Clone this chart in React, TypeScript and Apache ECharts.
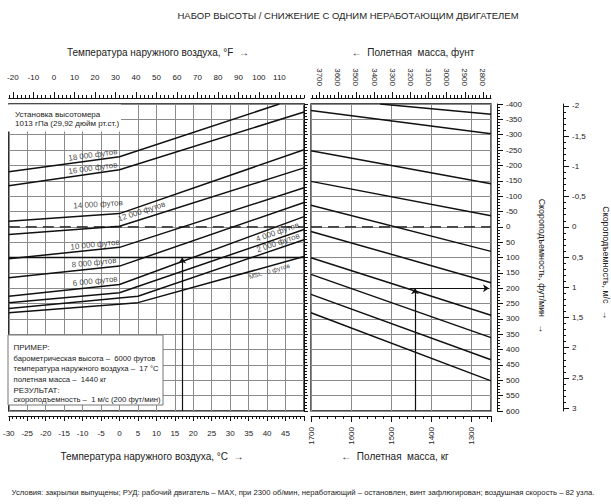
import React, { useEffect, useRef } from "react";
import * as echarts from "echarts";

const FONT = "'Liberation Sans', Arial, Helvetica, sans-serif";
const LB_PER_KG = 2.20462;
const FT_PER_MS = 196.85;
const KG_REF = 1700;

// ---- tick labels ----
const fahrenheitLabels = [-20, -10, 0, 10, 20, 30, 40, 50, 60, 70, 80, 90, 100, 110];
const poundLabels = [3700, 3600, 3500, 3400, 3300, 3200, 3100, 3000, 2900, 2800];
const msLabels = [-2, -1.5, -1, -0.5, 0, 0.5, 1, 1.5, 2, 2.5, 3];

// ---- left panel: altitude lines [°C, ft/min] ----
const alt18000 = [[-30, -179], [0, -228], [43.3, -400]];
const alt16000 = [[-30, -134], [0, -186], [50, -374]];
const alt14000 = [[-30, -18], [0, -43], [50, -251]];
const alt12000 = [[-30, 25], [0, -2], [50, -192]];
const alt10000 = [[-30, 104], [0, 67], [50, -127]];
const alt8000 = [[-30, 166], [0, 128], [50, -79]];
const alt6000 = [[-30, 226], [0, 188], [50, -33]];
const alt4000 = [[-30, 247], [0, 215], [50, 9]];
const alt2000 = [[-30, 266], [5, 226], [50, 42]];
const altMSL = [[-30, 280], [5, 247], [50, 97]];

const altitudeLines = [alt18000, alt16000, alt14000, alt12000, alt10000, alt8000, alt6000, alt4000, alt2000, altMSL];
const altitudeNames = ["18 000 футов", "16 000 футов", "14 000 футов", "12 000 футов", "10 000 футов", "8 000 футов", "6 000 футов", "4 000 футов", "2 000 футов", "MSL   0 футов"];
// label anchors [°C, ft/min] and angle (deg)
const altitudeLabelAnchors = [[-7.2, -234], [-7.2, -191], [-5.8, -73], [6.0, -50], [-6.6, 58], [-6.9, 117], [-6.6, 177], [42.8, 17], [43.0, 52], [40.6, 144]];
const altitudeLabelAngles = [8, 8, 4, 18, 6, 6, 6, 19, 19, 16];

// ---- right panel: weight guide lines [kg, ft/min] ----
const guide1 = [[1527, -400], [1250, -367]];
const guide2 = [[1700, -379], [1250, -303]];
const guide3 = [[1700, -248], [1250, -140]];
const guide4 = [[1700, -148], [1250, -36]];
const guide5 = [[1700, -70], [1250, 80]];
const guide6 = [[1700, 15], [1250, 182]];
const guide7 = [[1700, 101], [1250, 288]];
const guide8 = [[1700, 155], [1250, 361]];
const guide9 = [[1700, 220], [1250, 433]];
const guide10 = [[1700, 280], [1250, 502]];
const guideLines = [guide1, guide2, guide3, guide4, guide5, guide6, guide7, guide8, guide9, guide10];

// ---- example ----
const exampleOAT = 17; // °C
const exampleRate = 100; // ft/min at max weight
const exampleMass = 1440; // kg
const exampleStartMass = 1452; // kg
const exampleResult = 200; // ft/min

const toKgAxis = (kg: number) => KG_REF - kg;

const lbMinor: number[] = [];
for (let lb = 2760; lb <= 3740; lb += 20) lbMinor.push(lb);
const msMajorTicks = msLabels.map((v) => v * FT_PER_MS);
const msMinorTicks: number[] = [];
for (let i = -20; i <= 30; i++) msMinorTicks.push((i / 10) * FT_PER_MS);

const BLACK = "#111";
const GRAY = "#8a8a8a";
const TEXT = "#222";

function fmtMs(v: number) {
  const m = Math.round((v / FT_PER_MS) * 10) / 10;
  return String(m).replace(".", ",");
}

function txt(x: number, y: number, text: string, fontSize: number, extra: any = {}) {
  return {
    type: "text", x, y, z: extra.z ?? 11, rotation: extra.rotation ?? 0,
    style: { text, align: extra.align ?? "left", verticalAlign: "middle", fontSize, fill: TEXT, fontFamily: FONT },
  };
}

function buildOption() {
  const axisLine = { show: true, onZero: false, lineStyle: { color: BLACK, width: 1 } };
  const noLine = { show: false, onZero: false };
  const tickStyle = { color: BLACK, width: 1 };
  const labelStyle = { fontSize: 8, color: TEXT, fontFamily: FONT };

  const series: any[] = [];
  altitudeLines.forEach((pts, i) => {
    series.push({
      type: "line", name: altitudeNames[i], xAxisIndex: 0, yAxisIndex: 0, data: pts,
      symbol: "none", silent: true, lineStyle: { color: BLACK, width: 1.5 }, z: 3,
    });
  });
  guideLines.forEach((pts) => {
    series.push({
      type: "line", xAxisIndex: 3, yAxisIndex: 1, data: pts.map(([kg, v]) => [toKgAxis(kg), v]),
      symbol: "none", silent: true, lineStyle: { color: BLACK, width: 1.5 }, z: 3,
    });
  });
  // zero dashed lines
  series.push({
    type: "line", xAxisIndex: 0, yAxisIndex: 0, data: [[-30, 0], [50, 0]], symbol: "none", silent: true,
    lineStyle: { color: BLACK, width: 1.3, type: [11, 6] }, z: 3,
  });
  series.push({
    type: "line", xAxisIndex: 3, yAxisIndex: 1, data: [[toKgAxis(1700), 0], [toKgAxis(1250), 0]], symbol: "none", silent: true,
    lineStyle: { color: BLACK, width: 1.3, type: [11, 6] }, z: 3,
  });
  // example
  series.push({
    type: "line", xAxisIndex: 0, yAxisIndex: 0, data: [[-30, exampleRate], [50, exampleRate]], symbol: "none", silent: true,
    lineStyle: { color: BLACK, width: 1.3 }, z: 3,
  });
  series.push({
    type: "lines", coordinateSystem: "cartesian2d", xAxisIndex: 0, yAxisIndex: 0, silent: true,
    symbol: ["none", "arrow"], symbolSize: 6, lineStyle: { color: BLACK, width: 1.2, opacity: 1 },
    data: [{ coords: [[exampleOAT, 600], [exampleOAT, exampleRate]] }], z: 4,
  });
  series.push({
    type: "lines", coordinateSystem: "cartesian2d", xAxisIndex: 3, yAxisIndex: 1, silent: true,
    symbol: ["none", "arrow"], symbolSize: 6, lineStyle: { color: BLACK, width: 1.2, opacity: 1 },
    data: [
      { coords: [[toKgAxis(exampleMass), 600], [toKgAxis(exampleMass), exampleResult]] },
      { coords: [[toKgAxis(exampleStartMass), exampleResult], [toKgAxis(1255), exampleResult]] },
    ], z: 4,
  });
  // altitude labels
  series.push({
    type: "scatter", xAxisIndex: 0, yAxisIndex: 0, silent: true, symbolSize: 1,
    itemStyle: { color: "rgba(0,0,0,0)" }, z: 5,
    label: { show: true, position: "inside", fontSize: 8, color: "#111", fontFamily: FONT },
    data: altitudeNames.map((name, i) => ({
      value: altitudeLabelAnchors[i],
      label: { formatter: name, rotate: altitudeLabelAngles[i], fontSize: i === 9 ? 6.5 : 8 },
    })),
  });

  const gridBase = { top: 104, height: 307, show: true, borderColor: BLACK, borderWidth: 1.3, backgroundColor: "transparent" };

  return {
    animation: false,
    backgroundColor: "#fff",
    textStyle: { fontFamily: FONT },
    grid: [
      { ...gridBase, left: 7, width: 297 },
      { ...gridBase, left: 311, width: 180 },
    ],
    xAxis: [
      { // 0 °C bottom
        type: "value", gridIndex: 0, position: "bottom", min: -30, max: 50, interval: 5, offset: 5,
        axisLine, axisTick: { show: true, length: 5, lineStyle: tickStyle },
        minorTick: { show: true, splitNumber: 5, length: 3, lineStyle: tickStyle },
        axisLabel: { ...labelStyle, margin: 13, showMaxLabel: false },
        splitLine: { show: true, lineStyle: { color: GRAY, width: 1 } },
      },
      { // 1 °F top major
        type: "value", gridIndex: 0, position: "top", min: -22, max: 122, offset: 6,
        axisLine, axisTick: { show: true, length: 6, lineStyle: tickStyle, customValues: fahrenheitLabels },
        axisLabel: { ...labelStyle, margin: 17, customValues: fahrenheitLabels },
        splitLine: { show: false },
      },
      { // 2 °F top minor
        type: "value", gridIndex: 0, position: "top", min: -22, max: 122, interval: 2, offset: 6,
        axisLine: noLine, axisTick: { show: true, length: 3, lineStyle: tickStyle },
        axisLabel: { show: false }, splitLine: { show: false },
      },
      { // 3 kg bottom (kg below 1700)
        type: "value", gridIndex: 1, position: "bottom", min: 0, max: 450, interval: 100, offset: 5,
        axisLine, axisTick: { show: true, length: 6, lineStyle: tickStyle },
        minorTick: { show: true, splitNumber: 5, length: 3, lineStyle: tickStyle },
        axisLabel: { ...labelStyle, margin: 11, rotate: 90, showMaxLabel: false, formatter: (v: number) => (v > 400 ? "" : String(KG_REF - v)) },
        splitLine: { show: true, lineStyle: { color: GRAY, width: 1 } },
      },
      { // 4 lb top major
        type: "value", gridIndex: 1, position: "top", min: 1250 * LB_PER_KG, max: 1700 * LB_PER_KG, inverse: true, offset: 6,
        axisLine, axisTick: { show: true, length: 6, lineStyle: tickStyle, customValues: poundLabels },
        axisLabel: { ...labelStyle, margin: 12, rotate: 90, customValues: poundLabels, formatter: (v: number) => String(Math.round(v)) },
        splitLine: { show: false },
      },
      { // 5 lb top minor
        type: "value", gridIndex: 1, position: "top", min: 1250 * LB_PER_KG, max: 1700 * LB_PER_KG, inverse: true, offset: 6,
        axisLine: noLine, axisTick: { show: true, length: 3, lineStyle: tickStyle, customValues: lbMinor },
        axisLabel: { show: false }, splitLine: { show: false },
      },
    ],
    yAxis: [
      { // 0 left grid
        type: "value", gridIndex: 0, position: "right", min: -400, max: 600, interval: 50, inverse: true,
        axisLine, axisTick: { show: true, length: 4, lineStyle: tickStyle },
        minorTick: { show: true, splitNumber: 5, length: 3, lineStyle: tickStyle },
        axisLabel: { show: false },
        splitLine: { show: true, lineStyle: { color: GRAY, width: 1 } },
      },
      { // 1 right grid ft/min
        type: "value", gridIndex: 1, position: "right", min: -400, max: 600, interval: 50, inverse: true, offset: 6,
        axisLine, axisTick: { show: true, length: 6, lineStyle: tickStyle },
        minorTick: { show: true, splitNumber: 5, length: 3, lineStyle: tickStyle },
        axisLabel: { ...labelStyle, margin: 9 },
        splitLine: { show: true, lineStyle: { color: GRAY, width: 1 } },
      },
      { // 2 m/s major
        type: "value", gridIndex: 1, position: "right", min: -400, max: 600, inverse: true, offset: 72,
        axisLine, axisTick: { show: true, length: 6, lineStyle: tickStyle, customValues: msMajorTicks },
        axisLabel: { ...labelStyle, margin: 9, customValues: msMajorTicks, formatter: fmtMs },
        splitLine: { show: false },
      },
      { // 3 m/s minor
        type: "value", gridIndex: 1, position: "right", min: -400, max: 600, inverse: true, offset: 72,
        axisLine: noLine, axisTick: { show: true, length: 3, lineStyle: tickStyle, customValues: msMinorTicks },
        axisLabel: { show: false }, splitLine: { show: false },
      },
    ],
    series,
    graphic: [
      txt(348, 15, "НАБОР ВЫСОТЫ / СНИЖЕНИЕ С ОДНИМ НЕРАБОТАЮЩИМ ДВИГАТЕЛЕМ", 9.5, { align: "center" }),
      txt(158, 52, "Температура наружного воздуха, °F  →", 10, { align: "center" }),
      txt(413, 52, "←  Полетная  масса, фунт", 10, { align: "center" }),
      txt(152, 456, "Температура наружного воздуха, °C  →", 10, { align: "center" }),
      txt(395, 456, "←  Полетная  масса, кг", 10, { align: "center" }),
      txt(303, 492, "Условия: закрылки выпущены; РУД: рабочий двигатель – MAX, при 2300 об/мин, неработающий – остановлен, винт зафлюгирован; воздушная скорость – 82 узла.", 7.7, { align: "center" }),
      txt(542, 266, "Скороподъемность, фут/мин   →", 8.9, { align: "center", rotation: -Math.PI / 2 }),
      txt(606, 263, "Скороподъемность, м/с   →", 8.9, { align: "center", rotation: -Math.PI / 2 }),
      // altimeter setting box
      { type: "rect", z: 10, shape: { x: 8, y: 104.5, width: 113, height: 27 }, style: { fill: "#fff", stroke: "none" } },
      txt(15, 114, "Установка высотомера", 8),
      txt(15, 123, "1013 гПа (29,92 дюйм рт.ст.)", 8),
      // example box
      { type: "rect", z: 10, shape: { x: 8, y: 335, width: 155, height: 70 }, style: { fill: "#fff", stroke: "#777", lineWidth: 1 } },
      txt(13.5, 347, "ПРИМЕР:", 8),
      txt(13.5, 358, "барометрическая высота –  6000 футов", 7.7),
      txt(13.5, 368.5, "температура наружного воздуха –  17 °C", 7.7),
      txt(13.5, 379, "полетная масса –  1440 кг", 7.7),
      txt(13.5, 390, "РЕЗУЛЬТАТ:", 8),
      txt(13.5, 399.5, "скороподъемность –  1 м/с (200 фут/мин)", 7.7),
    ],
  };
}

export default function App() {
  const ref = useRef<HTMLDivElement>(null);
  useEffect(() => {
    const chart = echarts.init(ref.current!, null, { renderer: "svg" });
    chart.setOption(buildOption() as any);
    return () => chart.dispose();
  }, []);
  return <div ref={ref} style={{ position: "absolute", left: 0, top: 0, width: 611, height: 504, background: "#fff" }} />;
}
